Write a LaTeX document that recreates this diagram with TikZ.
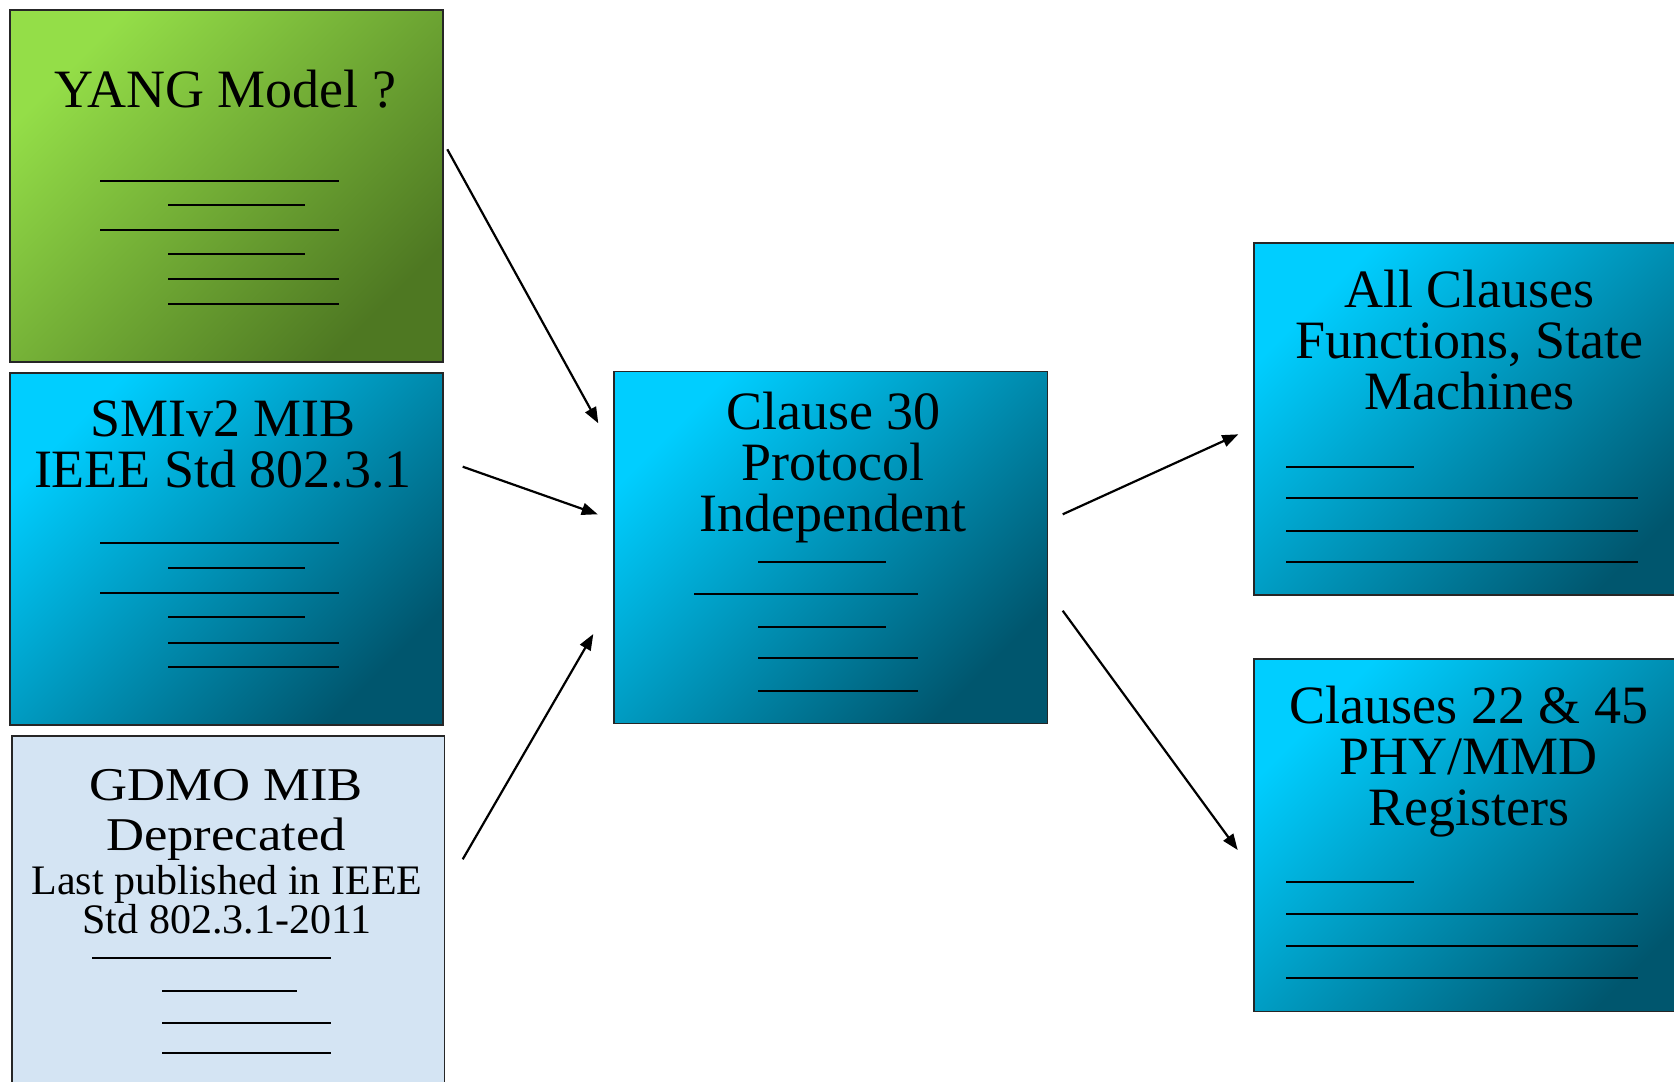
\documentclass[tikz,border=0pt]{standalone}
\usepackage{fontspec}
\usepackage{graphicx}
\setmainfont{Liberation Serif}
\usetikzlibrary{arrows.meta}
\definecolor{bluelight}{RGB}{0,206,255}
\definecolor{bluedark}{RGB}{0,86,110}
\definecolor{greenlight}{RGB}{148,222,72}
\definecolor{greendark}{RGB}{78,120,34}
\definecolor{paper}{RGB}{212,228,243}
\begin{document}
\begin{tikzpicture}[x=1pt,y=-1pt,
  box/.style={draw=black!85, line width=1.5pt, inner sep=0pt, anchor=north west},
  bluebox/.style={box, top color=bluelight, bottom color=bluedark, shading angle=45},
  greenbox/.style={box, top color=greenlight, bottom color=greendark, shading angle=45},
  paperbox/.style={box, fill=paper},
  hd/.style={font=\fontsize{54}{51}\selectfont, align=center, inner sep=0pt, anchor=base},
  sm/.style={font=\fontsize{42}{39}\selectfont, align=center, inner sep=0pt, anchor=base},
  rule/.style={line width=2.2pt, black},
  conn/.style={line width=2.2pt, -{Triangle[length=16pt,width=12pt]}}
]
\useasboundingbox (0,0) rectangle (1674,1082);
\fill[white] (0,0) rectangle (1674,1082);
\clip (0,0) rectangle (1674,1082);

% boxes
\node[greenbox, minimum width=433pt, minimum height=351.7pt] (yang) at (9,9.3) {};
\node[bluebox, minimum width=433pt, minimum height=351.7pt] (smi) at (9,372.3) {};
\node[paperbox, minimum width=432.7pt, minimum height=380pt] (gdmo) at (11,735) {};
\node[bluebox, minimum width=433.4pt, minimum height=352pt] (c30) at (613.3,370.7) {};
\node[bluebox, minimum width=460pt, minimum height=352pt] (allc) at (1253.3,242.3) {};
\node[bluebox, minimum width=460pt, minimum height=352.4pt] (c2245) at (1253.3,658.3) {};

% texts (base anchor = baseline of the last line)
\node[hd] (yangT) at (225.5,107.3) {YANG Model ?};
\node[hd] (smiT) at (223,487.7) {SMIv2 MIB\\IEEE Std 802.3.1};
\node[hd, font=\fontsize{47}{50}\selectfont] (gdmoT) at (226,850) {\scalebox{1.12}[1]{GDMO MIB}\\\scalebox{1.12}[1]{Deprecated}};
\node[sm] (gdmoS) at (227,933) {Last published in IEEE\\Std 802.3.1-2011};
\node[hd] (c30T) at (833.3,531.7) {Clause 30\\Protocol\\Independent};
\node[hd] (allcT) at (1469.7,409) {All Clauses\\Functions, State\\Machines};
\node[hd] (c2245T) at (1468.8,825) {Clauses 22 \& 45\\PHY/MMD\\Registers};

% placeholder rules
\foreach \a/\b/\y in {100/339/180.7,168/305/205.3,100/339/229.7,168/305/254.3,168/339/279.3,168/339/304,
                     100/339/543.3,168/305/568.3,100/339/592.7,168/305/617.3,168/339/642.7,168/339/667.3,
                     92/331/958.3,162/297/990.7,162/331/1022.7,162/331/1053.3,
                     758.3/885.7/562.3,694.3/917.7/594.3,758.3/885.7/626.7,758.3/917.7/658.3,758.3/917.7/690.7,
                     1286/1414/466.7,1286/1637.7/498.3,1286/1637.7/530.7,1286/1637.7/562.3,
                     1286/1414/882.3,1286/1637.7/914.3,1286/1637.7/946,1286/1637.7/978.3}
  \draw[rule] (\a,\y) -- (\b,\y);

% connector ends
\coordinate (a1s) at (447.3,149.3);
\coordinate (a1e) at (598.3,423.3);
\coordinate (a2s) at (462.7,466.7);
\coordinate (a2e) at (597.7,514.3);
\coordinate (a3s) at (462.7,859.3);
\coordinate (a3e) at (593.3,634);
\coordinate (a4s) at (1062.7,514.3);
\coordinate (a4e) at (1238.3,434.3);
\coordinate (a5s) at (1062.7,610.7);
\coordinate (a5e) at (1237.7,850);

\draw[conn] (a1s) -- (a1e);
\draw[conn] (a2s) -- (a2e);
\draw[conn] (a3s) -- (a3e);
\draw[conn] (a4s) -- (a4e);
\draw[conn] (a5s) -- (a5e);
\end{tikzpicture}
\end{document}
